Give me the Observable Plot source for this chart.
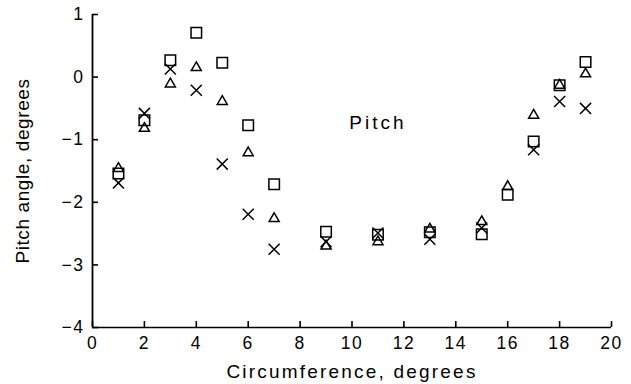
<!DOCTYPE html>
<html><head><meta charset="utf-8">
<script src="https://cdn.jsdelivr.net/npm/d3@7"></script>
<script src="https://cdn.jsdelivr.net/npm/@observablehq/plot@0.6"></script>
<style>
body{margin:0;background:#fff}
svg text{font-family:"Liberation Sans",Arial,sans-serif}
g[aria-label="x-axis tick label"] text, g[aria-label="y-axis tick label"] text{letter-spacing:1.5px}
g[aria-label="x-axis label"] text{font-size:19px;letter-spacing:2.2px}
g[aria-label="y-axis label"] text{font-size:19px;letter-spacing:0.6px}
g[aria-label="text"] text{letter-spacing:3px}
</style></head><body><div id="chart"></div>
<script>
// Circumferential positions (degrees)
const xSquare = [1,2,3,4,5,6,7,9,11,13,15,16,17,18,19];
const ySquare = [-1.54,-0.69,0.27,0.71,0.23,-0.77,-1.71,-2.47,-2.52,-2.48,-2.51,-1.88,-1.03,-0.13,0.24];
const xTriangle = [1,2,3,4,5,6,7,9,11,13,15,16,17,18,19];
const yTriangle = [-1.46,-0.82,-0.11,0.15,-0.39,-1.21,-2.26,-2.70,-2.63,-2.43,-2.31,-1.75,-0.61,-0.13,0.05];
const xCross = [1,2,3,4,5,6,7,9,11,13,15,17,18,19];
const yCross = [-1.69,-0.58,0.13,-0.21,-1.39,-2.19,-2.75,-2.63,-2.49,-2.59,-2.41,-1.16,-0.39,-0.50];
const xTicks = [0,2,4,6,8,10,12,14,16,18,20];
const yTicks = [-4,-3,-2,-1,0,1];
const annX = [11];
const annY = [-0.73];
const annText = ["Pitch"];

const W = 631, H = 384, ML = 92, MR = 20, MT = 14, MB = 57;
const xDom = [0, 20], yDom = [-4, 1];
const tickPx = 6;
const tickLenY = tickPx * (yDom[1] - yDom[0]) / (H - MT - MB); // in y units
const tickLenX = tickPx * (xDom[1] - xDom[0]) / (W - ML - MR); // in x units

const pts = (xs, ys) => xs.map((x, i) => ({x, y: ys[i]}));
const ann = annX.map((x, i) => ({x, y: annY[i], t: annText[i]}));

const chart = Plot.plot({
  width: W, height: H,
  marginLeft: ML, marginRight: MR, marginTop: MT, marginBottom: MB,
  style: {fontSize: "17.5px", fontFamily: "Liberation Sans, Arial, sans-serif", color: "#000", background: "#fff"},
  x: {domain: xDom, ticks: xTicks, tickSize: 0, tickPadding: 9, label: "Circumference, degrees", labelArrow: "none", labelAnchor: "center", labelOffset: 50},
  y: {domain: yDom, ticks: yTicks, tickSize: 0, tickPadding: 8, label: "Pitch angle, degrees", labelArrow: "none", labelAnchor: "center", labelOffset: 77, tickFormat: d3.format("d")},
  marks: [
    Plot.ruleX(xTicks, {x: d => d, y1: yDom[0], y2: yDom[0] + tickLenY, stroke: "#000", strokeWidth: 1.6}),
    Plot.ruleY(yTicks, {y: d => d, x1: xDom[0], x2: xDom[0] + tickLenX, stroke: "#000", strokeWidth: 1.6}),
    Plot.ruleX([xDom[0]], {stroke: "#000", strokeWidth: 1.8}),
    Plot.ruleY([yDom[0]], {stroke: "#000", strokeWidth: 1.6}),
    Plot.dot(pts(xSquare, ySquare), {x: "x", y: "y", symbol: "square2", r: 6.7, stroke: "#000", strokeWidth: 1.5, fill: "none"}),
    Plot.dot(pts(xTriangle, yTriangle), {x: "x", y: "y", symbol: "triangle2", r: 4.8, stroke: "#000", strokeWidth: 1.5, fill: "none"}),
    Plot.dot(pts(xCross, yCross), {x: "x", y: "y", symbol: "times", r: 5.1, stroke: "#000", strokeWidth: 1.5, fill: "none"}),
    Plot.text(ann, {x: "x", y: "y", text: "t", fontSize: 19, fill: "#000"})
  ]
});
document.getElementById("chart").appendChild(chart);
</script></body></html>
